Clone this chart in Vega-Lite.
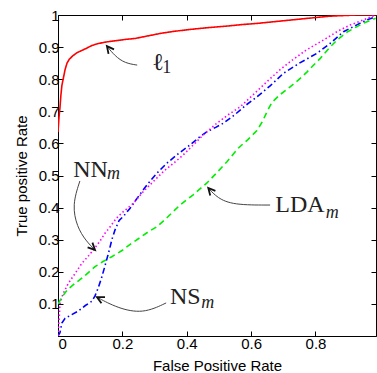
{
  "$schema": "https://vega.github.io/schema/vega-lite/v6.json",
  "autosize": "none",
  "width": 318,
  "height": 321,
  "padding": {"left": 58, "top": 15, "right": 1, "bottom": 37},
  "background": "white",
  "config": {
    "view": {"stroke": "black", "strokeWidth": 1},
    "axis": {
      "domainColor": "black",
      "tickColor": "black",
      "labelColor": "black",
      "titleColor": "black",
      "labelFont": "Liberation Sans",
      "titleFont": "Liberation Sans",
      "labelFontSize": 15,
      "titleFontSize": 15,
      "titleFontWeight": "normal",
      "grid": false,
      "tickSize": -5
    }
  },
  "datasets": {
    "curves": [
      {"method": "l1", "i": 0, "x": 0, "y": 0.635},
      {"method": "l1", "i": 1, "x": 0.003, "y": 0.68},
      {"method": "l1", "i": 2, "x": 0.006, "y": 0.71},
      {"method": "l1", "i": 3, "x": 0.009, "y": 0.75},
      {"method": "l1", "i": 4, "x": 0.012, "y": 0.78},
      {"method": "l1", "i": 5, "x": 0.016, "y": 0.8},
      {"method": "l1", "i": 6, "x": 0.022, "y": 0.83},
      {"method": "l1", "i": 7, "x": 0.028, "y": 0.85},
      {"method": "l1", "i": 8, "x": 0.035, "y": 0.862},
      {"method": "l1", "i": 9, "x": 0.045, "y": 0.872},
      {"method": "l1", "i": 10, "x": 0.058, "y": 0.882},
      {"method": "l1", "i": 11, "x": 0.075, "y": 0.89},
      {"method": "l1", "i": 12, "x": 0.09, "y": 0.897},
      {"method": "l1", "i": 13, "x": 0.105, "y": 0.905},
      {"method": "l1", "i": 14, "x": 0.125, "y": 0.911},
      {"method": "l1", "i": 15, "x": 0.15, "y": 0.916},
      {"method": "l1", "i": 16, "x": 0.18, "y": 0.92},
      {"method": "l1", "i": 17, "x": 0.21, "y": 0.924},
      {"method": "l1", "i": 18, "x": 0.24, "y": 0.927},
      {"method": "l1", "i": 19, "x": 0.28, "y": 0.935},
      {"method": "l1", "i": 20, "x": 0.32, "y": 0.943},
      {"method": "l1", "i": 21, "x": 0.36, "y": 0.949},
      {"method": "l1", "i": 22, "x": 0.41, "y": 0.955},
      {"method": "l1", "i": 23, "x": 0.46, "y": 0.96},
      {"method": "l1", "i": 24, "x": 0.52, "y": 0.965},
      {"method": "l1", "i": 25, "x": 0.57, "y": 0.97},
      {"method": "l1", "i": 26, "x": 0.62, "y": 0.974},
      {"method": "l1", "i": 27, "x": 0.68, "y": 0.98},
      {"method": "l1", "i": 28, "x": 0.74, "y": 0.986},
      {"method": "l1", "i": 29, "x": 0.8, "y": 0.992},
      {"method": "l1", "i": 30, "x": 0.84, "y": 0.996},
      {"method": "l1", "i": 31, "x": 0.88, "y": 0.998},
      {"method": "l1", "i": 32, "x": 0.93, "y": 1.0},
      {"method": "l1", "i": 33, "x": 0.987, "y": 1.0},

      {"method": "NS", "i": 0, "x": 0, "y": 0},
      {"method": "NS", "i": 1, "x": 0.006, "y": 0.01},
      {"method": "NS", "i": 2, "x": 0.012, "y": 0.04},
      {"method": "NS", "i": 3, "x": 0.022, "y": 0.055},
      {"method": "NS", "i": 4, "x": 0.04, "y": 0.065},
      {"method": "NS", "i": 5, "x": 0.063, "y": 0.078},
      {"method": "NS", "i": 6, "x": 0.085, "y": 0.095},
      {"method": "NS", "i": 7, "x": 0.105, "y": 0.108},
      {"method": "NS", "i": 8, "x": 0.115, "y": 0.125},
      {"method": "NS", "i": 9, "x": 0.125, "y": 0.15},
      {"method": "NS", "i": 10, "x": 0.135, "y": 0.18},
      {"method": "NS", "i": 11, "x": 0.145, "y": 0.215},
      {"method": "NS", "i": 12, "x": 0.151, "y": 0.237},
      {"method": "NS", "i": 13, "x": 0.16, "y": 0.27},
      {"method": "NS", "i": 14, "x": 0.167, "y": 0.299},
      {"method": "NS", "i": 15, "x": 0.177, "y": 0.33},
      {"method": "NS", "i": 16, "x": 0.19, "y": 0.36},
      {"method": "NS", "i": 17, "x": 0.205, "y": 0.375},
      {"method": "NS", "i": 18, "x": 0.224, "y": 0.398},
      {"method": "NS", "i": 19, "x": 0.25, "y": 0.435},
      {"method": "NS", "i": 20, "x": 0.276, "y": 0.47},
      {"method": "NS", "i": 21, "x": 0.305, "y": 0.505},
      {"method": "NS", "i": 22, "x": 0.338, "y": 0.538},
      {"method": "NS", "i": 23, "x": 0.37, "y": 0.565},
      {"method": "NS", "i": 24, "x": 0.41, "y": 0.595},
      {"method": "NS", "i": 25, "x": 0.44, "y": 0.62},
      {"method": "NS", "i": 26, "x": 0.462, "y": 0.636},
      {"method": "NS", "i": 27, "x": 0.49, "y": 0.65},
      {"method": "NS", "i": 28, "x": 0.514, "y": 0.663},
      {"method": "NS", "i": 29, "x": 0.55, "y": 0.69},
      {"method": "NS", "i": 30, "x": 0.585, "y": 0.72},
      {"method": "NS", "i": 31, "x": 0.618, "y": 0.745},
      {"method": "NS", "i": 32, "x": 0.66, "y": 0.78},
      {"method": "NS", "i": 33, "x": 0.7, "y": 0.818},
      {"method": "NS", "i": 34, "x": 0.75, "y": 0.85},
      {"method": "NS", "i": 35, "x": 0.805, "y": 0.881},
      {"method": "NS", "i": 36, "x": 0.85, "y": 0.915},
      {"method": "NS", "i": 37, "x": 0.887, "y": 0.948},
      {"method": "NS", "i": 38, "x": 0.93, "y": 0.97},
      {"method": "NS", "i": 39, "x": 0.96, "y": 0.985},
      {"method": "NS", "i": 40, "x": 0.987, "y": 0.995},

      {"method": "NN", "i": 0, "x": 0, "y": 0},
      {"method": "NN", "i": 1, "x": 0.002, "y": 0.03},
      {"method": "NN", "i": 2, "x": 0.004, "y": 0.06},
      {"method": "NN", "i": 3, "x": 0.006, "y": 0.1},
      {"method": "NN", "i": 4, "x": 0.015, "y": 0.13},
      {"method": "NN", "i": 5, "x": 0.032, "y": 0.164},
      {"method": "NN", "i": 6, "x": 0.05, "y": 0.19},
      {"method": "NN", "i": 7, "x": 0.074, "y": 0.226},
      {"method": "NN", "i": 8, "x": 0.095, "y": 0.25},
      {"method": "NN", "i": 9, "x": 0.11, "y": 0.268},
      {"method": "NN", "i": 10, "x": 0.13, "y": 0.295},
      {"method": "NN", "i": 11, "x": 0.146, "y": 0.32},
      {"method": "NN", "i": 12, "x": 0.162, "y": 0.34},
      {"method": "NN", "i": 13, "x": 0.18, "y": 0.365},
      {"method": "NN", "i": 14, "x": 0.2, "y": 0.385},
      {"method": "NN", "i": 15, "x": 0.234, "y": 0.413},
      {"method": "NN", "i": 16, "x": 0.265, "y": 0.45},
      {"method": "NN", "i": 17, "x": 0.3, "y": 0.485},
      {"method": "NN", "i": 18, "x": 0.33, "y": 0.515},
      {"method": "NN", "i": 19, "x": 0.359, "y": 0.538},
      {"method": "NN", "i": 20, "x": 0.39, "y": 0.565},
      {"method": "NN", "i": 21, "x": 0.41, "y": 0.585},
      {"method": "NN", "i": 22, "x": 0.45, "y": 0.625},
      {"method": "NN", "i": 23, "x": 0.49, "y": 0.66},
      {"method": "NN", "i": 24, "x": 0.53, "y": 0.69},
      {"method": "NN", "i": 25, "x": 0.566, "y": 0.714},
      {"method": "NN", "i": 26, "x": 0.61, "y": 0.755},
      {"method": "NN", "i": 27, "x": 0.649, "y": 0.792},
      {"method": "NN", "i": 28, "x": 0.69, "y": 0.83},
      {"method": "NN", "i": 29, "x": 0.722, "y": 0.855},
      {"method": "NN", "i": 30, "x": 0.77, "y": 0.89},
      {"method": "NN", "i": 31, "x": 0.825, "y": 0.922},
      {"method": "NN", "i": 32, "x": 0.87, "y": 0.95},
      {"method": "NN", "i": 33, "x": 0.908, "y": 0.969},
      {"method": "NN", "i": 34, "x": 0.95, "y": 0.985},
      {"method": "NN", "i": 35, "x": 0.987, "y": 1.0},

      {"method": "LDA", "i": 0, "x": 0, "y": 0.1},
      {"method": "LDA", "i": 1, "x": 0.015, "y": 0.125},
      {"method": "LDA", "i": 2, "x": 0.03, "y": 0.145},
      {"method": "LDA", "i": 3, "x": 0.053, "y": 0.164},
      {"method": "LDA", "i": 4, "x": 0.08, "y": 0.185},
      {"method": "LDA", "i": 5, "x": 0.115, "y": 0.216},
      {"method": "LDA", "i": 6, "x": 0.14, "y": 0.232},
      {"method": "LDA", "i": 7, "x": 0.167, "y": 0.247},
      {"method": "LDA", "i": 8, "x": 0.2, "y": 0.267},
      {"method": "LDA", "i": 9, "x": 0.229, "y": 0.289},
      {"method": "LDA", "i": 10, "x": 0.26, "y": 0.31},
      {"method": "LDA", "i": 11, "x": 0.281, "y": 0.325},
      {"method": "LDA", "i": 12, "x": 0.307, "y": 0.34},
      {"method": "LDA", "i": 13, "x": 0.34, "y": 0.37},
      {"method": "LDA", "i": 14, "x": 0.379, "y": 0.408},
      {"method": "LDA", "i": 15, "x": 0.42, "y": 0.44},
      {"method": "LDA", "i": 16, "x": 0.462, "y": 0.476},
      {"method": "LDA", "i": 17, "x": 0.49, "y": 0.505},
      {"method": "LDA", "i": 18, "x": 0.525, "y": 0.543},
      {"method": "LDA", "i": 19, "x": 0.56, "y": 0.585},
      {"method": "LDA", "i": 20, "x": 0.59, "y": 0.612},
      {"method": "LDA", "i": 21, "x": 0.618, "y": 0.64},
      {"method": "LDA", "i": 22, "x": 0.635, "y": 0.668},
      {"method": "LDA", "i": 23, "x": 0.65, "y": 0.7},
      {"method": "LDA", "i": 24, "x": 0.665, "y": 0.728},
      {"method": "LDA", "i": 25, "x": 0.69, "y": 0.752},
      {"method": "LDA", "i": 26, "x": 0.722, "y": 0.777},
      {"method": "LDA", "i": 27, "x": 0.75, "y": 0.8},
      {"method": "LDA", "i": 28, "x": 0.774, "y": 0.823},
      {"method": "LDA", "i": 29, "x": 0.815, "y": 0.865},
      {"method": "LDA", "i": 30, "x": 0.845, "y": 0.9},
      {"method": "LDA", "i": 31, "x": 0.867, "y": 0.922},
      {"method": "LDA", "i": 32, "x": 0.895, "y": 0.945},
      {"method": "LDA", "i": 33, "x": 0.918, "y": 0.958},
      {"method": "LDA", "i": 34, "x": 0.95, "y": 0.975},
      {"method": "LDA", "i": 35, "x": 0.987, "y": 0.99}
    ],
    "arrows": [
      {"id": "l1", "i": 0, "x": 0.246, "y": 0.844},
      {"id": "l1", "i": 1, "x": 0.208, "y": 0.85},
      {"id": "l1", "i": 2, "x": 0.177, "y": 0.872},
      {"id": "l1", "i": 3, "x": 0.152, "y": 0.903},
      {"id": "NN", "i": 0, "x": 0.068, "y": 0.483},
      {"id": "NN", "i": 1, "x": 0.044, "y": 0.408},
      {"id": "NN", "i": 2, "x": 0.059, "y": 0.34},
      {"id": "NN", "i": 3, "x": 0.087, "y": 0.296},
      {"id": "NN", "i": 4, "x": 0.115, "y": 0.268},
      {"id": "LDA", "i": 0, "x": 0.659, "y": 0.408},
      {"id": "LDA", "i": 1, "x": 0.544, "y": 0.408},
      {"id": "LDA", "i": 2, "x": 0.495, "y": 0.43},
      {"id": "LDA", "i": 3, "x": 0.467, "y": 0.461},
      {"id": "NS", "i": 0, "x": 0.336, "y": 0.103},
      {"id": "NS", "i": 1, "x": 0.264, "y": 0.069},
      {"id": "NS", "i": 2, "x": 0.184, "y": 0.087},
      {"id": "NS", "i": 3, "x": 0.121, "y": 0.121}
    ],
    "heads": [
      {"id": "l1", "i": 0, "x": 0.174, "y": 0.893},
      {"id": "l1", "i": 1, "x": 0.152, "y": 0.903},
      {"id": "l1", "i": 2, "x": 0.157, "y": 0.879},
      {"id": "NN", "i": 0, "x": 0.107, "y": 0.291},
      {"id": "NN", "i": 1, "x": 0.115, "y": 0.268},
      {"id": "NN", "i": 2, "x": 0.092, "y": 0.276},
      {"id": "LDA", "i": 0, "x": 0.489, "y": 0.452},
      {"id": "LDA", "i": 1, "x": 0.467, "y": 0.461},
      {"id": "LDA", "i": 2, "x": 0.473, "y": 0.438},
      {"id": "NS", "i": 0, "x": 0.146, "y": 0.121},
      {"id": "NS", "i": 1, "x": 0.121, "y": 0.121},
      {"id": "NS", "i": 2, "x": 0.135, "y": 0.102}
    ],
    "labels": [
      {"text": "ℓ", "x": 0.292, "y": 0.829},
      {"text": "NN", "x": 0.047, "y": 0.495},
      {"text": "LDA", "x": 0.675, "y": 0.386},
      {"text": "NS", "x": 0.348, "y": 0.1}
    ],
    "subs": [
      {"text": "1", "x": 0.324, "y": 0.819},
      {"text": "m", "x": 0.152, "y": 0.489},
      {"text": "m", "x": 0.832, "y": 0.368},
      {"text": "m", "x": 0.445, "y": 0.087}
    ]
  },
  "resolve": {"axis": {"x": "independent", "y": "independent"}},
  "layer": [
    {
      "data": {"name": "curves"},
      "mark": {"type": "line", "strokeWidth": 1.6, "clip": true},
      "encoding": {
        "x": {"field": "x", "type": "quantitative",
              "scale": {"domain": [0, 0.988], "nice": false, "zero": false},
              "axis": {"orient": "bottom", "values": [0, 0.2, 0.4, 0.6, 0.8], "format": "~g", "title": "False Positive Rate",
                       "labelFontSize": 15, "titleFontSize": 15, "labelPadding": 5, "titlePadding": 7}},
        "y": {"field": "y", "type": "quantitative",
              "scale": {"domain": [0, 1], "nice": false, "zero": false},
              "axis": {"orient": "left", "values": [0.1, 0.2, 0.3, 0.4, 0.5, 0.6, 0.7, 0.8, 0.9, 1], "format": "~g", "title": "True positive Rate",
                       "labelFontSize": 15, "titleFontSize": 15, "labelPadding": 4, "titlePadding": 9}},
        "color": {"field": "method", "type": "nominal", "legend": null,
                  "scale": {"domain": ["l1", "NS", "NN", "LDA"], "range": ["#ff0000", "#0000ff", "#ff00ff", "#00ee00"]}},
        "strokeDash": {"field": "method", "type": "nominal", "legend": null,
                  "scale": {"domain": ["l1", "NS", "NN", "LDA"], "range": [[1, 0], [6, 3, 1.5, 3], [1.5, 2.5], [6, 4]]}},
        "order": {"field": "i", "type": "quantitative"}
      }
    },
    {
      "data": {"name": "arrows"},
      "mark": {"type": "line", "interpolate": "basis", "color": "#444444", "strokeWidth": 1},
      "encoding": {
        "x": {"field": "x", "type": "quantitative",
              "axis": {"orient": "top", "values": [0, 0.2, 0.4, 0.6, 0.8], "labels": false, "title": null, "domain": false}},
        "y": {"field": "y", "type": "quantitative",
              "axis": {"orient": "right", "values": [0.1, 0.2, 0.3, 0.4, 0.5, 0.6, 0.7, 0.8, 0.9, 1], "labels": false, "title": null, "domain": false}},
        "detail": {"field": "id", "type": "nominal"},
        "order": {"field": "i", "type": "quantitative"}
      }
    },
    {
      "data": {"name": "heads"},
      "mark": {"type": "line", "color": "#111111", "strokeWidth": 1.8},
      "encoding": {
        "x": {"field": "x", "type": "quantitative", "axis": null},
        "y": {"field": "y", "type": "quantitative", "axis": null},
        "detail": {"field": "id", "type": "nominal"},
        "order": {"field": "i", "type": "quantitative"}
      }
    },
    {
      "data": {"name": "labels"},
      "mark": {"type": "text", "font": "Liberation Serif", "fontSize": 24, "align": "left", "baseline": "alphabetic", "color": "#222222"},
      "encoding": {
        "x": {"field": "x", "type": "quantitative", "axis": null},
        "y": {"field": "y", "type": "quantitative", "axis": null},
        "text": {"field": "text"}
      }
    },
    {
      "data": {"name": "subs"},
      "mark": {"type": "text", "font": "Liberation Serif", "fontSize": 18, "fontStyle": "italic", "align": "left", "baseline": "alphabetic", "color": "#222222"},
      "transform": [{"filter": "datum.text === 'm'"}],
      "encoding": {
        "x": {"field": "x", "type": "quantitative", "axis": null},
        "y": {"field": "y", "type": "quantitative", "axis": null},
        "text": {"field": "text"}
      }
    },
    {
      "data": {"name": "subs"},
      "mark": {"type": "text", "font": "Liberation Serif", "fontSize": 18, "align": "left", "baseline": "alphabetic", "color": "#222222"},
      "transform": [{"filter": "datum.text === '1'"}],
      "encoding": {
        "x": {"field": "x", "type": "quantitative", "axis": null},
        "y": {"field": "y", "type": "quantitative", "axis": null},
        "text": {"field": "text"}
      }
    }
  ]
}
